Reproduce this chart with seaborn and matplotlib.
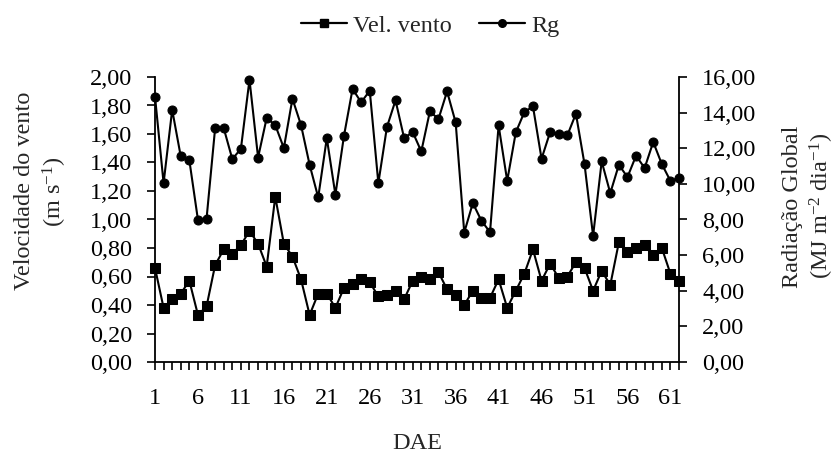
import numpy as np
import pandas as pd
import matplotlib
matplotlib.use("Agg")
import matplotlib.pyplot as plt
import seaborn as sns
from matplotlib.ticker import FuncFormatter, MultipleLocator
from matplotlib.lines import Line2D

dae = list(range(1, 63))

vel_vento = [0.66, 0.38, 0.44, 0.48, 0.57, 0.33, 0.39, 0.68, 0.79, 0.76,
             0.82, 0.92, 0.83, 0.67, 1.16, 0.83, 0.74, 0.58, 0.33, 0.48,
             0.48, 0.38, 0.52, 0.55, 0.58, 0.56, 0.46, 0.47, 0.50, 0.44,
             0.57, 0.60, 0.58, 0.63, 0.51, 0.47, 0.40, 0.50, 0.45, 0.45,
             0.58, 0.38, 0.50, 0.62, 0.79, 0.57, 0.69, 0.59, 0.60, 0.70,
             0.66, 0.50, 0.64, 0.54, 0.84, 0.77, 0.80, 0.82, 0.75, 0.80,
             0.62, 0.57]

rg = [14.90, 10.04, 14.16, 11.54, 11.32, 7.98, 8.04, 13.13, 13.13, 11.39,
      11.97, 15.85, 11.48, 13.70, 13.30, 12.01, 14.78, 13.30, 11.07, 9.24,
      12.57, 9.39, 12.70, 15.33, 14.58, 15.23, 10.04, 13.19, 14.69, 12.57,
      12.91, 11.82, 14.07, 13.64, 15.19, 13.45, 7.27, 8.92, 7.93, 7.29,
      13.28, 10.17, 12.89, 14.03, 14.35, 11.41, 12.91, 12.80, 12.72, 13.94,
      11.11, 7.08, 11.26, 9.48, 11.07, 10.38, 11.58, 10.89, 12.35, 11.11,
      10.17, 10.33]

df = pd.DataFrame({"DAE": dae, "Vel. vento": vel_vento, "Rg": rg})

sns.set_theme(style="white")
plt.rcParams["font.family"] = ["Liberation Serif", "DejaVu Serif"]
plt.rcParams["mathtext.fontset"] = "custom"
plt.rcParams["mathtext.rm"] = "Liberation Serif"
plt.rcParams["mathtext.it"] = "Liberation Serif:italic"

FS = 17.5
W, H = 837, 461

fig = plt.figure(figsize=(W / 100, H / 100), dpi=100)
ax = fig.add_axes([155 / W, 1 - 362 / H, (679 - 155) / W, (362 - 77) / H])
ax2 = ax.twinx()

sns.lineplot(data=df, x="DAE", y="Vel. vento", ax=ax, color="black",
             marker="s", markersize=6.5, markeredgecolor="black",
             linewidth=1.5, clip_on=False, zorder=3)
sns.lineplot(data=df, x="DAE", y="Rg", ax=ax2, color="black",
             marker="o", markersize=6.5, markeredgecolor="black",
             linewidth=1.5, clip_on=False, zorder=3)

comma = FuncFormatter(lambda v, p: f"{v:.2f}".replace(".", ","))

ax.set_xlim(1, 62)
ax.set_ylim(0, 2.0)
ax2.set_ylim(0, 16)
ax.yaxis.set_major_locator(MultipleLocator(0.2))
ax2.yaxis.set_major_locator(MultipleLocator(2))
ax.yaxis.set_major_formatter(comma)
ax2.yaxis.set_major_formatter(comma)
ax.set_xticks(dae[::5])
ax.set_xticks(dae, minor=True)

for a in (ax, ax2):
    a.grid(False)
    a.spines["top"].set_visible(False)
    for s in ("left", "right", "bottom"):
        a.spines[s].set_color("black")
        a.spines[s].set_linewidth(1.3)

ax.spines["right"].set_visible(False)
ax2.spines["left"].set_visible(False)
ax2.spines["bottom"].set_visible(False)

ax.tick_params(axis="y", which="major", direction="out", length=5.8, width=1.2,
               left=True, labelsize=FS, pad=10.5, colors="black")
ax2.tick_params(axis="y", which="major", direction="out", length=5.8, width=1.2,
                right=True, labelsize=FS, pad=11, colors="black")
ax.tick_params(axis="x", which="both", direction="out", length=5.8, width=1.2,
               bottom=True, labelsize=FS, pad=13, colors="black")

ax.set_xlabel("")
ax.set_ylabel("")
ax2.set_ylabel("")

# axis titles placed in figure coordinates
fig.text(417 / W, 1 - 443 / H, "DAE", fontsize=FS, ha="center", va="center")
fig.text(25 / W, 1 - 191 / H, "Velocidade do vento", fontsize=FS,
         rotation=90, ha="center", va="center")
fig.text(55 / W, 1 - 192 / H, "(m s$^{-1}$)", fontsize=FS,
         rotation=90, ha="center", va="center")
fig.text(793 / W, 1 - 207 / H, "Radiação Global", fontsize=FS,
         rotation=90, ha="center", va="center")
fig.text(822 / W, 1 - 206 / H, "(MJ m$^{-2}$ dia$^{-1}$)", fontsize=FS,
         rotation=90, ha="center", va="center")

handles = [
    Line2D([], [], color="black", marker="s", markersize=5.5, linewidth=1.6),
    Line2D([], [], color="black", marker="o", markersize=5.5, linewidth=1.6),
]
fig.legend(handles, ["Vel. vento", "Rg"], loc="center",
           bbox_to_anchor=(430 / W, 1 - 26 / H), ncol=2, frameon=False,
           fontsize=FS, handlelength=1.9, handletextpad=0.25,
           columnspacing=1.1)

fig.savefig("out.png", dpi=100)
